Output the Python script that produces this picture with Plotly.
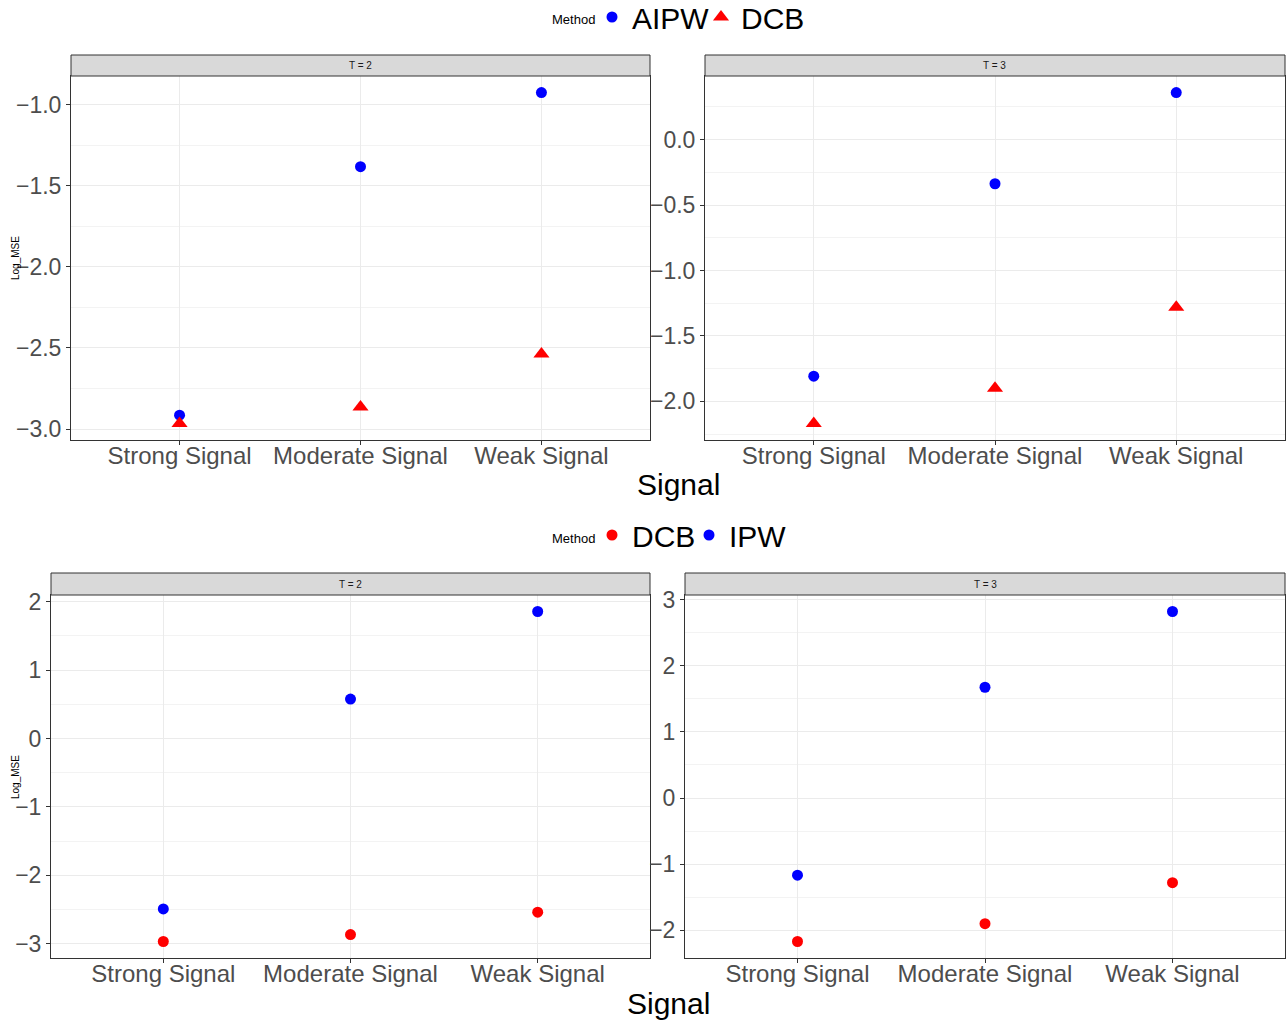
import plotly.graph_objects as go

W, H = 1287, 1023
categories = ["Strong Signal", "Moderate Signal", "Weak Signal"]
x_pos = [1, 2, 3]

# Top figure: AIPW vs DCB
top_T2_AIPW = [-2.914, -1.383, -0.926]
top_T2_DCB = [-2.965, -2.864, -2.537]
top_T3_AIPW = [-1.808, -0.337, 0.360]
top_T3_DCB = [-2.169, -1.900, -1.280]

# Bottom figure: DCB vs IPW
bot_T2_DCB = [-2.965, -2.864, -2.537]
bot_T2_IPW = [-2.490, 0.576, 1.855]
bot_T3_DCB = [-2.169, -1.900, -1.280]
bot_T3_IPW = [-1.166, 1.675, 2.820]

strip_labels = ["T = 2", "T = 3", "T = 2", "T = 3"]

BLUE = "#0000FF"
RED = "#FF0000"
TICKC = "#4D4D4D"
BORDER = "#333333"
FONT = "Liberation Sans"


def px_x(p):
    return p / W


def px_y(p):
    return 1 - p / H


# panel pixel boxes: (x0, x1, ytop, ybottom, strip top)
panels = [
    (71, 650, 76, 440, 55),
    (705, 1285, 76, 440, 55),
    (51, 650, 595, 958, 573),
    (685, 1285, 595, 958, 573),
]

fig = go.Figure()


def rng(vals):
    lo, hi = min(vals), max(vals)
    e = (hi - lo) * 0.05
    return [lo - e, hi + e]


panel_data = [
    [("AIPW", top_T2_AIPW, BLUE, "circle", 11, "legend"), ("DCB", top_T2_DCB, RED, "triangle-up", 14, "legend")],
    [("AIPW", top_T3_AIPW, BLUE, "circle", 11, "legend"), ("DCB", top_T3_DCB, RED, "triangle-up", 14, "legend")],
    [("DCB", bot_T2_DCB, RED, "circle", 11, "legend2"), ("IPW", bot_T2_IPW, BLUE, "circle", 11, "legend2")],
    [("DCB", bot_T3_DCB, RED, "circle", 11, "legend2"), ("IPW", bot_T3_IPW, BLUE, "circle", 11, "legend2")],
]
dticks = [0.5, 0.5, 1, 1]
fmts = [".1f", ".1f", "d", "d"]

shapes = []
annotations = []
for i, ((x0, x1, yt, yb, st), traces) in enumerate(zip(panels, panel_data)):
    n = i + 1
    xa = "x" if n == 1 else f"x{n}"
    ya = "y" if n == 1 else f"y{n}"
    allv = []
    for name, vals, col, sym, size, lg in traces:
        allv += vals
        fig.add_trace(go.Scatter(
            x=x_pos, y=vals, mode="markers", name=name,
            marker=dict(color=col, symbol=sym, size=size),
            xaxis=xa, yaxis=ya, legend=lg,
            showlegend=(i in (0, 2)),
        ))
    d = dticks[i]
    common = dict(
        showline=True, mirror=True, linecolor=BORDER, linewidth=1,
        ticks="outside", ticklen=4, tickcolor=BORDER, tickwidth=1,
        gridcolor="#EBEBEB", gridwidth=1, zeroline=False,
    )
    fig.update_layout(**{
        ("xaxis" if n == 1 else f"xaxis{n}"): dict(
            domain=[px_x(x0), px_x(x1)], anchor=ya,
            range=[0.4, 3.6], tickmode="array", tickvals=x_pos, ticktext=categories,
            tickfont=dict(family=FONT, size=24, color=TICKC),
            ticklabelstandoff=-10,
            **common,
        ),
        ("yaxis" if n == 1 else f"yaxis{n}"): dict(
            domain=[px_y(yb), px_y(yt)], anchor=xa,
            range=rng(allv), tickmode="linear", tick0=0, dtick=d, tickformat=fmts[i],
            tickfont=dict(family=FONT, size=23, color=TICKC),
            minor=dict(dtick=d / 2, tick0=0, showgrid=True, gridcolor="#F3F3F3", gridwidth=1, ticks=""),
            **common,
        ),
    })
    shapes.append(dict(type="rect", xref="paper", yref="paper",
                       x0=px_x(x0), x1=px_x(x1), y0=px_y(yt), y1=px_y(st),
                       fillcolor="#D9D9D9", line=dict(color=BORDER, width=1), layer="above"))
    annotations.append(dict(text=strip_labels[i], xref="paper", yref="paper",
                            x=px_x((x0 + x1) / 2), y=px_y((yt + st) / 2),
                            showarrow=False, xanchor="center", yanchor="middle",
                            font=dict(family=FONT, size=10, color="#1A1A1A")))

# axis titles
for (xc, yc) in [(678, 484), (668, 1003)]:
    annotations.append(dict(text="Signal", xref="paper", yref="paper",
                            x=px_x(xc), y=px_y(yc), showarrow=False,
                            xanchor="center", yanchor="middle",
                            font=dict(family=FONT, size=30, color="black")))
for yc in [258, 777]:
    annotations.append(dict(text="Log_MSE", xref="paper", yref="paper",
                            x=px_x(15), y=px_y(yc), showarrow=False, textangle=-90,
                            xanchor="center", yanchor="middle",
                            font=dict(family=FONT, size=10, color="black")))
# legend titles
for (xr, yc) in [(597, 20), (597, 538)]:
    annotations.append(dict(text="Method", xref="paper", yref="paper",
                            x=px_x(xr), y=px_y(yc), showarrow=False,
                            xanchor="right", yanchor="middle",
                            font=dict(family=FONT, size=13, color="black")))

legend_common = dict(
    orientation="h", xanchor="left", yanchor="top",
    bgcolor="rgba(0,0,0,0)", font=dict(family=FONT, size=30, color="black"),
    itemwidth=30, tracegroupgap=0,
)

fig.update_layout(
    width=W, height=H, margin=dict(l=0, r=0, t=0, b=0, autoexpand=False),
    plot_bgcolor="white", paper_bgcolor="white",
    shapes=shapes, annotations=annotations,
    legend=dict(x=px_x(592), y=px_y(-9), entrywidth=64, **legend_common),
    legend2=dict(x=px_x(592), y=px_y(509), entrywidth=52, **legend_common),
    font=dict(family=FONT),
)

fig.write_html(
    "out.html",
    config={"displayModeBar": False},
    post_script="document.body.style.margin='0';document.body.style.overflow='hidden';",
)
